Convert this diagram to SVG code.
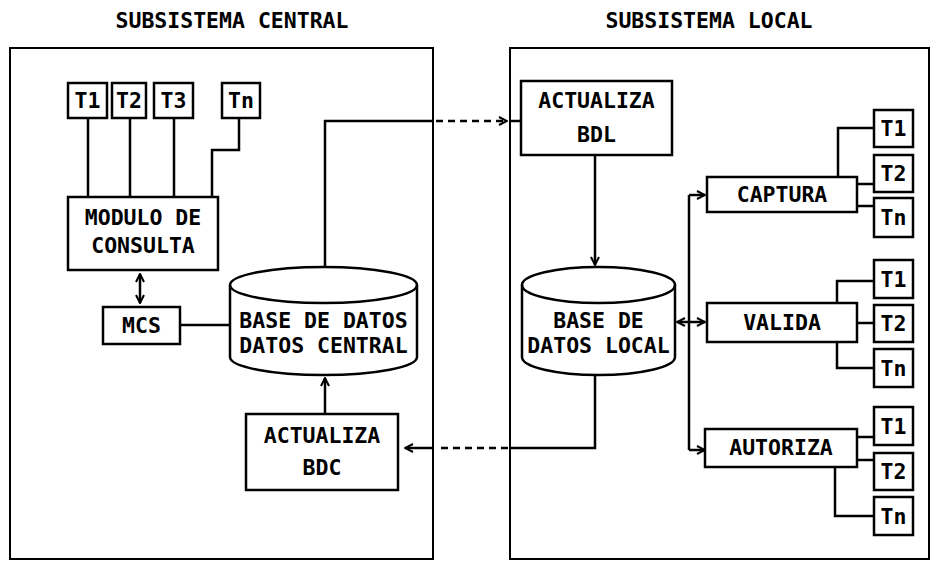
<svg xmlns="http://www.w3.org/2000/svg" width="934" height="563" viewBox="0 0 934 563">
<style>
.b{fill:#fff;stroke:#000;stroke-width:2.5}
.p{fill:none;stroke:#000;stroke-width:2}
.l{fill:none;stroke:#000;stroke-width:2.5}
.d{fill:none;stroke:#000;stroke-width:2.5;stroke-dasharray:7 5}
text{font-family:"DejaVu Sans Mono","Liberation Mono",monospace;font-weight:bold;font-size:21.5px;fill:#000;text-anchor:middle}
</style>
<defs>
<marker id="a" viewBox="0 0 10 10" refX="9" refY="5" markerWidth="10" markerHeight="10" markerUnits="userSpaceOnUse" orient="auto-start-reverse">
<path d="M1,1 L9,5 L1,9" fill="none" stroke="#000" stroke-width="2"/>
</marker>
</defs>
<rect width="934" height="563" fill="#fff"/>
<g id="titles">
<text x="232" y="28">SUBSISTEMA CENTRAL</text>
<text x="709" y="28">SUBSISTEMA LOCAL</text>
</g>
<g id="panel-central"><rect class="p" x="10" y="48" width="423" height="511"/></g>
<g id="panel-local"><rect class="p" x="510" y="48" width="419" height="511"/></g>
<g id="connectors">
<path class="l" d="M88,118V197M130,118V197M174,118V197M239,118V150H212V197"/>
<path class="l" d="M140,274V303" marker-start="url(#a)" marker-end="url(#a)"/>
<path class="l" d="M180,325H230"/>
<path class="l" d="M325,267V121H433"/>
<path class="d" d="M436,121H507" marker-end="url(#a)"/>
<path class="l" d="M510,121H521"/>
<path class="l" d="M325,414V378" marker-end="url(#a)"/>
<path class="l" d="M595,375V448H510"/>
<path class="d" d="M508,448H436"/>
<path class="l" d="M433,448H405" marker-end="url(#a)"/>
<path class="l" d="M595,155V265" marker-end="url(#a)"/>
<path class="l" d="M689,195V450"/>
<path class="l" d="M689,195H705" marker-end="url(#a)"/>
<path class="l" d="M689,450H705" marker-end="url(#a)"/>
<path class="l" d="M677,322H705" marker-start="url(#a)" marker-end="url(#a)"/>
<path class="l" d="M838,177V128H874M857,184H874M857,206H874"/>
<path class="l" d="M837,303V281H874M857,323H874M837,342V368H874"/>
<path class="l" d="M857,437H874M857,460H874M835,467V516H874"/>
</g>
<g id="t1c"><rect class="b" x="68" y="83" width="39" height="35"/><text x="87.5" y="108">T1</text></g>
<g id="t2c"><rect class="b" x="112" y="83" width="34" height="35"/><text x="129" y="108">T2</text></g>
<g id="t3c"><rect class="b" x="154" y="83" width="39" height="35"/><text x="173.5" y="108">T3</text></g>
<g id="tnc"><rect class="b" x="222" y="83" width="38" height="35"/><text x="241" y="108">Tn</text></g>
<g id="modulo"><rect class="b" x="68" y="197" width="150" height="73"/><text x="143" y="225">MODULO DE</text><text x="143" y="253">CONSULTA</text></g>
<g id="mcs"><rect class="b" x="103" y="307" width="77" height="37"/><text x="141.5" y="333">MCS</text></g>
<g id="bd-central">
<path class="b" d="M230,285A93.5,18 0 0 1 417,285V357A93.5,18 0 0 1 230,357Z"/>
<path class="l" d="M230,285A93.5,18 0 0 0 417,285"/>
<text x="323.5" y="328">BASE DE DATOS</text><text x="323.5" y="353">DATOS CENTRAL</text>
</g>
<g id="act-bdc"><rect class="b" x="246" y="414" width="152" height="76"/><text x="322" y="443">ACTUALIZA</text><text x="322" y="475">BDC</text></g>
<g id="act-bdl"><rect class="b" x="521" y="81" width="151" height="74"/><text x="596.5" y="108">ACTUALIZA</text><text x="596.5" y="142">BDL</text></g>
<g id="bd-local">
<path class="b" d="M522,285A76.5,18 0 0 1 675,285V357A76.5,18 0 0 1 522,357Z"/>
<path class="l" d="M522,285A76.5,18 0 0 0 675,285"/>
<text x="598.5" y="328">BASE DE</text><text x="598.5" y="353">DATOS LOCAL</text>
</g>
<g id="captura"><rect class="b" x="707" y="177" width="150" height="35"/><text x="782" y="202">CAPTURA</text></g>
<g id="valida"><rect class="b" x="707" y="303" width="150" height="39"/><text x="782" y="330">VALIDA</text></g>
<g id="autoriza"><rect class="b" x="705" y="429" width="152" height="38"/><text x="781" y="455">AUTORIZA</text></g>
<g id="cap-t1"><rect class="b" x="874" y="110" width="39" height="37"/><text x="893.5" y="136">T1</text></g>
<g id="cap-t2"><rect class="b" x="874" y="155" width="39" height="37"/><text x="893.5" y="181">T2</text></g>
<g id="cap-tn"><rect class="b" x="874" y="198" width="39" height="39"/><text x="893.5" y="225">Tn</text></g>
<g id="val-t1"><rect class="b" x="874" y="260" width="39" height="38"/><text x="893.5" y="287">T1</text></g>
<g id="val-t2"><rect class="b" x="874" y="305" width="39" height="37"/><text x="893.5" y="331">T2</text></g>
<g id="val-tn"><rect class="b" x="874" y="349" width="39" height="38"/><text x="893.5" y="376">Tn</text></g>
<g id="aut-t1"><rect class="b" x="874" y="407" width="39" height="38"/><text x="893.5" y="434">T1</text></g>
<g id="aut-t2"><rect class="b" x="874" y="453" width="39" height="37"/><text x="893.5" y="479">T2</text></g>
<g id="aut-tn"><rect class="b" x="874" y="497" width="39" height="38"/><text x="893.5" y="524">Tn</text></g>
</svg>
